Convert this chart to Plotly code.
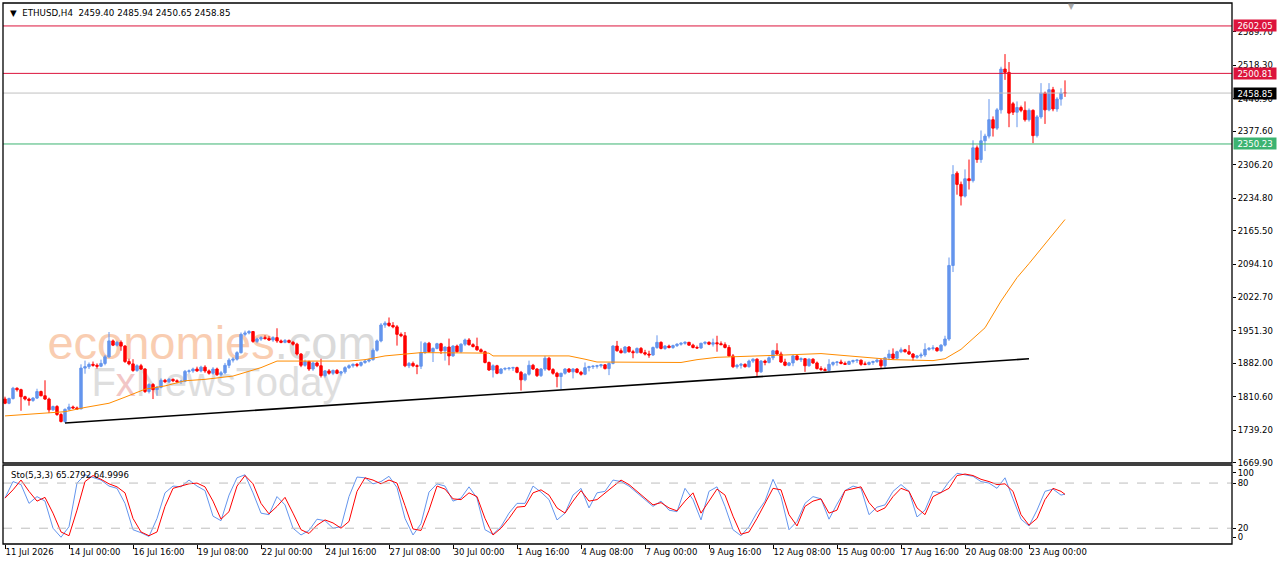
import plotly.graph_objects as go

# H4 bars, bar 0 = 11 Jul 2026 08:00
tick_bars = [0, 16, 32, 48, 64, 80, 96, 112, 128, 144, 160, 176, 192, 208, 224, 240, 256]
tick_text = ["11 Jul 2026", "14 Jul 00:00", "16 Jul 16:00", "19 Jul 08:00", "22 Jul 00:00",
             "24 Jul 16:00", "27 Jul 08:00", "30 Jul 00:00", "1 Aug 16:00", "4 Aug 08:00",
             "7 Aug 00:00", "9 Aug 16:00", "12 Aug 08:00", "15 Aug 00:00", "17 Aug 16:00",
             "20 Aug 08:00", "23 Aug 00:00"]

opens = [
    1806, 1797, 1807, 1829, 1826, 1811, 1806, 1803, 1808, 1822,
    1813, 1806, 1783, 1790, 1773, 1758, 1784, 1789, 1787, 1785,
    1872, 1875, 1880, 1878, 1876, 1882, 1896, 1930, 1921, 1927,
    1919, 1886, 1881, 1867, 1877, 1870, 1822, 1837, 1826, 1831,
    1846, 1843, 1848, 1845, 1843, 1844, 1865, 1866, 1870, 1866,
    1874, 1866, 1861, 1870, 1858, 1862, 1878, 1889, 1891, 1905,
    1944, 1947, 1950, 1929, 1934, 1937, 1935, 1932, 1937, 1930,
    1927, 1931, 1927, 1923, 1902, 1878, 1886, 1870, 1883, 1877,
    1856, 1866, 1861, 1867, 1861, 1864, 1873, 1877, 1880, 1878,
    1884, 1887, 1890, 1910, 1930, 1964, 1968, 1963, 1960, 1944,
    1941, 1877, 1882, 1877, 1876, 1905, 1925, 1907, 1914, 1924,
    1909, 1917, 1898, 1919, 1907, 1923, 1932, 1922, 1918, 1911,
    1907, 1884, 1868, 1877, 1861, 1870, 1871, 1872, 1873, 1863,
    1847, 1859, 1878, 1870, 1856, 1870, 1893, 1869, 1861, 1854,
    1861, 1870, 1864, 1870, 1863, 1859, 1873, 1875, 1876, 1877,
    1879, 1871, 1882, 1919, 1909, 1905, 1917, 1907, 1905, 1914,
    1905, 1902, 1900, 1916, 1927, 1914, 1919, 1916, 1920, 1923,
    1925, 1927, 1921, 1916, 1915, 1925, 1927, 1923, 1926, 1924,
    1922, 1916, 1898, 1875, 1878, 1880, 1875, 1887, 1891, 1864,
    1887, 1884, 1894, 1909, 1902, 1885, 1878, 1883, 1898, 1890,
    1892, 1877, 1891, 1883, 1871, 1869, 1867, 1880, 1884, 1885,
    1882, 1880, 1886, 1888, 1889, 1881, 1880, 1884, 1886, 1889,
    1877, 1894, 1902, 1893, 1907, 1911, 1907, 1902, 1895, 1898,
    1900, 1912, 1914, 1915, 1909, 1921, 1934, 2091, 2288, 2264,
    2239, 2276, 2272, 2342, 2317, 2357, 2367, 2402, 2384, 2423,
    2510, 2503, 2436, 2418, 2428, 2422, 2402, 2422, 2368, 2408,
    2459, 2423, 2466, 2425, 2446, 2459.40]
highs = [
    1811, 1809, 1832, 1831, 1828, 1813, 1809, 1810, 1828, 1824,
    1846, 1809, 1792, 1793, 1776, 1786, 1796, 1792, 1790, 1880,
    1888, 1884, 1886, 1882, 1890, 1900, 1949, 1933, 1930, 1931,
    1921, 1892, 1891, 1880, 1881, 1872, 1840, 1840, 1834, 1850,
    1849, 1851, 1850, 1848, 1847, 1868, 1869, 1873, 1875, 1877,
    1878, 1869, 1874, 1873, 1866, 1883, 1893, 1895, 1908, 1948,
    1952, 1953, 1951, 1937, 1940, 1942, 1940, 1940, 1957, 1933,
    1934, 1933, 1930, 1926, 1904, 1890, 1888, 1886, 1886, 1892,
    1868, 1870, 1869, 1870, 1866, 1876, 1880, 1882, 1883, 1886,
    1890, 1892, 1914, 1933, 1968, 1972, 1980, 1970, 1964, 1948,
    1949, 1885, 1886, 1880, 1929, 1928, 1928, 1916, 1926, 1926,
    1918, 1935, 1921, 1922, 1925, 1935, 1936, 1925, 1937, 1914,
    1909, 1886, 1880, 1879, 1872, 1874, 1874, 1875, 1875, 1866,
    1861, 1888, 1881, 1872, 1872, 1898, 1896, 1872, 1864, 1862,
    1872, 1872, 1872, 1872, 1866, 1884, 1877, 1878, 1879, 1881,
    1880, 1884, 1921, 1930, 1914, 1919, 1919, 1911, 1916, 1917,
    1911, 1909, 1918, 1942, 1929, 1921, 1922, 1922, 1925, 1927,
    1929, 1928, 1924, 1920, 1926, 1929, 1929, 1935, 1941, 1929,
    1927, 1921, 1902, 1881, 1883, 1882, 1890, 1893, 1893, 1889,
    1890, 1897, 1911, 1925, 1907, 1892, 1885, 1900, 1901, 1895,
    1893, 1893, 1893, 1886, 1876, 1873, 1891, 1886, 1887, 1890,
    1886, 1888, 1890, 1891, 1890, 1886, 1886, 1888, 1893, 1891,
    1896, 1911, 1914, 1909, 1916, 1913, 1921, 1904, 1900, 1905,
    1925, 1917, 1921, 1917, 1923, 1941, 2108, 2305, 2292, 2270,
    2296, 2317, 2358, 2347, 2379, 2372, 2446, 2409, 2427, 2515,
    2542, 2525, 2440, 2441, 2432, 2441, 2426, 2424, 2412, 2480,
    2462, 2480, 2472, 2450, 2469, 2485.94]
lows = [
    1795, 1795, 1805, 1822, 1781, 1803, 1792, 1800, 1806, 1812,
    1804, 1776, 1781, 1770, 1756, 1755, 1781, 1785, 1783, 1784,
    1860, 1870, 1875, 1871, 1874, 1878, 1894, 1919, 1918, 1909,
    1883, 1878, 1864, 1864, 1868, 1819, 1818, 1806, 1813, 1829,
    1840, 1840, 1842, 1840, 1838, 1842, 1860, 1862, 1864, 1863,
    1862, 1858, 1858, 1855, 1854, 1859, 1872, 1884, 1888, 1903,
    1940, 1944, 1926, 1925, 1930, 1933, 1930, 1928, 1926, 1925,
    1925, 1925, 1920, 1899, 1874, 1875, 1866, 1866, 1874, 1852,
    1852, 1858, 1857, 1859, 1856, 1860, 1870, 1873, 1874, 1875,
    1881, 1884, 1888, 1907, 1927, 1958, 1960, 1957, 1920, 1938,
    1874, 1872, 1874, 1859, 1870, 1902, 1905, 1885, 1912, 1902,
    1888, 1878, 1896, 1905, 1904, 1919, 1920, 1916, 1909, 1905,
    1882, 1866, 1852, 1859, 1859, 1867, 1867, 1866, 1861, 1824,
    1844, 1856, 1868, 1853, 1853, 1866, 1866, 1858, 1831, 1827,
    1858, 1862, 1850, 1861, 1856, 1857, 1865, 1870, 1871, 1873,
    1869, 1857, 1880, 1907, 1903, 1903, 1905, 1893, 1903, 1903,
    1899, 1894, 1898, 1913, 1912, 1911, 1914, 1913, 1917, 1920,
    1922, 1920, 1914, 1913, 1913, 1922, 1921, 1918, 1907, 1921,
    1914, 1896, 1872, 1871, 1871, 1873, 1873, 1883, 1854, 1862,
    1878, 1882, 1889, 1900, 1883, 1876, 1876, 1876, 1888, 1885,
    1864, 1875, 1881, 1869, 1866, 1865, 1865, 1876, 1877, 1880,
    1879, 1879, 1882, 1883, 1877, 1878, 1878, 1879, 1883, 1870,
    1871, 1889, 1890, 1891, 1904, 1905, 1900, 1888, 1892, 1893,
    1896, 1909, 1910, 1907, 1907, 1918, 1930, 2077, 2242, 2219,
    2236, 2253, 2268, 2310, 2310, 2335, 2362, 2366, 2380, 2415,
    2487, 2386, 2412, 2386, 2418, 2398, 2398, 2352, 2364, 2404,
    2393, 2420, 2420, 2419, 2432, 2450.65]
closes = [
    1797, 1807, 1829, 1826, 1811, 1806, 1803, 1808, 1822, 1813,
    1806, 1783, 1790, 1773, 1758, 1784, 1789, 1787, 1785, 1872,
    1875, 1880, 1878, 1876, 1882, 1896, 1930, 1921, 1927, 1919,
    1886, 1881, 1867, 1877, 1870, 1822, 1837, 1826, 1831, 1846,
    1843, 1848, 1845, 1843, 1844, 1865, 1866, 1870, 1866, 1874,
    1866, 1861, 1870, 1858, 1862, 1878, 1889, 1891, 1905, 1944,
    1947, 1950, 1929, 1934, 1937, 1935, 1932, 1937, 1930, 1927,
    1931, 1927, 1923, 1902, 1878, 1886, 1870, 1883, 1877, 1856,
    1866, 1861, 1867, 1861, 1864, 1873, 1877, 1880, 1878, 1884,
    1887, 1890, 1910, 1930, 1964, 1968, 1963, 1960, 1944, 1941,
    1877, 1882, 1877, 1876, 1905, 1925, 1907, 1914, 1924, 1909,
    1917, 1898, 1919, 1907, 1923, 1932, 1922, 1918, 1911, 1907,
    1884, 1868, 1877, 1861, 1870, 1871, 1872, 1873, 1863, 1847,
    1859, 1878, 1870, 1856, 1870, 1893, 1869, 1861, 1854, 1861,
    1870, 1864, 1870, 1863, 1859, 1873, 1875, 1876, 1877, 1879,
    1871, 1882, 1919, 1909, 1905, 1917, 1907, 1905, 1914, 1905,
    1902, 1900, 1916, 1927, 1914, 1919, 1916, 1920, 1923, 1925,
    1927, 1921, 1916, 1915, 1925, 1927, 1923, 1926, 1924, 1922,
    1916, 1898, 1875, 1878, 1880, 1875, 1887, 1891, 1864, 1887,
    1884, 1894, 1909, 1902, 1885, 1878, 1883, 1898, 1890, 1892,
    1877, 1891, 1883, 1871, 1869, 1867, 1880, 1884, 1885, 1882,
    1880, 1886, 1888, 1889, 1880, 1880, 1884, 1886, 1889, 1877,
    1894, 1902, 1893, 1907, 1911, 1907, 1902, 1895, 1898, 1900,
    1912, 1914, 1915, 1909, 1921, 1934, 2091, 2285, 2264, 2239,
    2276, 2272, 2342, 2317, 2357, 2367, 2402, 2384, 2423, 2510,
    2503, 2416, 2418, 2428, 2422, 2402, 2422, 2368, 2408, 2459,
    2423, 2466, 2425, 2446, 2459, 2458.85]

# moving average (orange), read at a few bars
ma_bars = [0, 8, 15, 20, 26, 30, 35, 40, 45, 50, 57, 64, 68, 78, 86, 90, 95, 104, 121, 122,
           134, 141, 145, 148, 169, 173, 178, 186, 195, 204, 208, 212, 216, 222, 232, 235,
           237, 239, 242, 245, 249, 253, 256, 260, 265]
ma_vals = [1770, 1774, 1779, 1788, 1797, 1810, 1827, 1834, 1845, 1848, 1855, 1873, 1887, 1887,
           1887, 1890, 1898, 1905, 1904, 1898, 1897, 1898, 1891, 1885, 1884, 1890, 1895, 1898,
           1900, 1903, 1900, 1897, 1895, 1890, 1888, 1892, 1902, 1912, 1935, 1958, 2015, 2065,
           2095, 2136, 2189]

trend_bars = [15, 256]
trend_vals = [1755, 1892]

level_vals = [2602.05, 2500.81, 2350.23]
level_colors = ["#DC143C", "#DC143C", "#3CB371"]
last_price = closes[-1]

price_ticks = [2589.70, 2518.30, 2446.90, 2377.60, 2306.20, 2234.80, 2165.50, 2094.10,
               2022.70, 1951.30, 1882.00, 1810.60, 1739.20, 1669.90]

# Stochastic(5,3,3), read every second bar
sto_bars = list(range(0, 265, 2)) + [265]
sto_main = [
    60, 82, 78, 53, 62, 56, 20, 8, 22, 80, 91, 88, 84, 76, 73, 53, 18, 14, 9, 33,
    67, 76, 75, 84, 76, 70, 36, 30, 64, 87, 91, 67, 40, 38, 62, 51, 20, 11, 17, 32,
    30, 20, 22, 62, 88, 87, 79, 82, 89, 74,
    33, 11, 26, 68, 79, 76, 56, 60, 75, 60, 18, 12, 22, 40, 53, 53, 76, 68, 58, 31,
    40, 64, 73, 47, 67, 69, 84, 82, 76, 67, 58, 49, 56, 44, 42, 73, 58, 31, 69, 75,
    49, 18, 10, 22, 41, 56, 85, 62, 18, 29,
    53, 62, 59, 32, 52, 70, 76, 73, 38, 48, 51, 69, 78, 69, 35, 44, 69, 67, 82, 93,
    91, 89, 82, 80, 73, 87, 59, 32, 23, 44, 69, 72, 64, 65.2792]
sto_signal = [
    60, 71, 84, 69, 56, 61, 40, 15, 10, 44, 82, 90, 85, 79, 75, 67, 33, 15, 10, 15,
    49, 73, 76, 79, 80, 75, 56, 32, 42, 76, 90, 79, 53, 39, 49, 61, 40, 18, 13, 24,
    31, 27, 20, 29, 69, 87, 84, 79, 84, 80,
    50, 19, 17, 44, 76, 72, 59, 58, 67, 62, 33, 11, 20, 33, 48, 49, 67, 71, 64, 47,
    40, 56, 70, 56, 58, 67, 76, 84, 78, 69, 61, 51, 54, 47, 43, 56, 67, 40, 56, 72,
    64, 36, 12, 15, 33, 54, 73, 71, 38, 23,
    49, 56, 59, 40, 44, 70, 73, 75, 54, 42, 47, 62, 73, 69, 47, 38, 62, 67, 73, 90,
    92, 90, 85, 82, 78, 79, 69, 38, 24, 33, 58, 73, 69, 64.9996]
sto_levels = [80, 20]

FONT = "DejaVu Sans"
bars = list(range(len(closes)))
price_range = [1669.5, 2651.0]
main_dom = [0.1497, 1.0]
sto_dom = [0.0, 0.146]

fig = go.Figure()

# watermark on the base axes, so the candles (overlay axes) sit on top of it
fig.add_trace(go.Scatter(
    x=[51.75, 53.0], y=[1917, 1834], mode="text",
    text=["<span style='color:#F9CDB1'>economies</span><span style='color:#DADADA'>.com</span>",
          "<span style='color:#DEDEDE'>F</span><span style='color:#F2C6C6'>x</span>"
          "<span style='color:#DEDEDE'>NewsToday</span>"],
    textfont=dict(family="Liberation Sans", size=[47, 40]),
    textposition="middle center", hoverinfo="skip", showlegend=False,
    xaxis="x", yaxis="y"))

fig.add_trace(go.Candlestick(
    x=bars, open=opens, high=highs, low=lows, close=closes,
    increasing=dict(line=dict(color="#6495ED", width=1), fillcolor="#6495ED"),
    decreasing=dict(line=dict(color="#FF0000", width=1), fillcolor="#FF0000"),
    whiskerwidth=0, hoverinfo="skip", showlegend=False, xaxis="x", yaxis="y3"))

fig.add_trace(go.Scatter(x=ma_bars, y=ma_vals, mode="lines",
                         line=dict(color="#FF8C00", width=1), hoverinfo="skip",
                         showlegend=False, xaxis="x", yaxis="y3"))
fig.add_trace(go.Scatter(x=trend_bars, y=trend_vals, mode="lines",
                         line=dict(color="black", width=1.6), hoverinfo="skip",
                         showlegend=False, xaxis="x", yaxis="y3"))

fig.add_trace(go.Scatter(x=sto_bars, y=sto_main, mode="lines",
                         line=dict(color="#6495ED", width=1), hoverinfo="skip",
                         showlegend=False, xaxis="x", yaxis="y2"))
fig.add_trace(go.Scatter(x=sto_bars, y=sto_signal, mode="lines",
                         line=dict(color="#FF0000", width=1), hoverinfo="skip",
                         showlegend=False, xaxis="x", yaxis="y2"))

shapes = []
for v, c in zip(level_vals, level_colors):
    shapes.append(dict(type="line", xref="paper", x0=0, x1=1, yref="y3", y0=v, y1=v,
                       line=dict(color=c, width=1)))
shapes.append(dict(type="line", xref="paper", x0=0, x1=1, yref="y3", y0=last_price,
                   y1=last_price, line=dict(color="#C0C0C0", width=1)))
for v in sto_levels:
    shapes.append(dict(type="line", xref="paper", x0=0, x1=1, yref="y2", y0=v, y1=v,
                       line=dict(color="#BDBDBD", width=1, dash="dash")))
# panel frames
shapes.append(dict(type="rect", xref="paper", yref="paper", x0=0, x1=1, y0=main_dom[0],
                   y1=main_dom[1], line=dict(color="black", width=1.3)))
shapes.append(dict(type="rect", xref="paper", yref="paper", x0=0, x1=1, y0=sto_dom[0],
                   y1=sto_dom[1], line=dict(color="black", width=1.3)))

annotations = []
for v, c in zip(level_vals, level_colors):
    annotations.append(dict(xref="paper", x=1, xanchor="left", xshift=1, yref="y3", y=v,
                            text=f"{v:.2f}", showarrow=False, bgcolor=c, width=42, height=11,
                            borderpad=0, font=dict(family=FONT, size=8.5, color="white")))
annotations.append(dict(xref="paper", x=1, xanchor="left", xshift=1, yref="y3", y=last_price,
                        text=f"{last_price:.2f}", showarrow=False, bgcolor="black", width=42,
                        height=11, borderpad=0, font=dict(family=FONT, size=8.5, color="white")))
annotations.append(dict(xref="paper", yref="paper", x=0.004, y=0.9815, xanchor="left",
                        yanchor="middle", showarrow=False,
                        text=f"\u25BC  ETHUSD,H4  {opens[-1]:.2f} {highs[-1]:.2f} "
                             f"{lows[-1]:.2f} {closes[-1]:.2f}",
                        font=dict(family=FONT, size=8.7, color="black")))
annotations.append(dict(xref="paper", yref="paper", x=0.005, y=0.1275, xanchor="left",
                        yanchor="middle", showarrow=False,
                        text=f"Sto(5,3,3) {sto_main[-1]:.4f} {sto_signal[-1]:.4f}",
                        font=dict(family=FONT, size=8.5, color="black")))
annotations.append(dict(xref="paper", yref="paper", x=0.8695, y=0.994, xanchor="center",
                        yanchor="middle", showarrow=False, text="\u25BC",
                        font=dict(family=FONT, size=8, color="#A8A8A8")))

fig.update_layout(
    template="none",
    width=1280, height=567,
    margin=dict(l=3, r=48, t=3, b=23, autoexpand=False),
    paper_bgcolor="white", plot_bgcolor="white",
    boxgap=0.4, boxgroupgap=0,
    showlegend=False, hovermode=False,
    font=dict(family=FONT, size=8, color="black"),
    xaxis=dict(domain=[0, 1], range=[-0.5, 306.75], anchor="y2", automargin=False,
               tickvals=tick_bars, ticktext=tick_text, ticks="outside", ticklen=4,
               tickcolor="black", tickangle=0, ticklabelposition="outside right",
               tickfont=dict(family=FONT, size=8.5, color="black"),
               showgrid=False, zeroline=False, showline=False,
               rangeslider=dict(visible=False)),
    yaxis=dict(domain=main_dom, range=price_range, anchor="x", visible=False,
               automargin=False, showgrid=False, zeroline=False),
    yaxis3=dict(overlaying="y", anchor="x", side="right", range=price_range,
                automargin=False,
                tickvals=price_ticks, ticktext=[f"{t:.2f}" for t in price_ticks],
                ticks="outside", ticklen=3, tickcolor="black",
                tickfont=dict(family=FONT, size=8.5, color="black"),
                showgrid=False, zeroline=False, showline=False),
    yaxis2=dict(domain=sto_dom, range=[-1, 104], anchor="x", side="right",
                automargin=False,
                tickvals=[93.4, 80, 20, 8.3], ticktext=["100", "80", "20", "0"],
                ticks="outside", ticklen=3, tickcolor="black",
                tickfont=dict(family=FONT, size=8.5, color="black"),
                showgrid=False, zeroline=False, showline=False),
    shapes=shapes,
    annotations=annotations,
)

# the page body has a default 8px margin; drop it so the figure sits at the window corner
fig.write_html("out.html", config={"displayModeBar": False},
               post_script="document.body.style.margin='0px';")
